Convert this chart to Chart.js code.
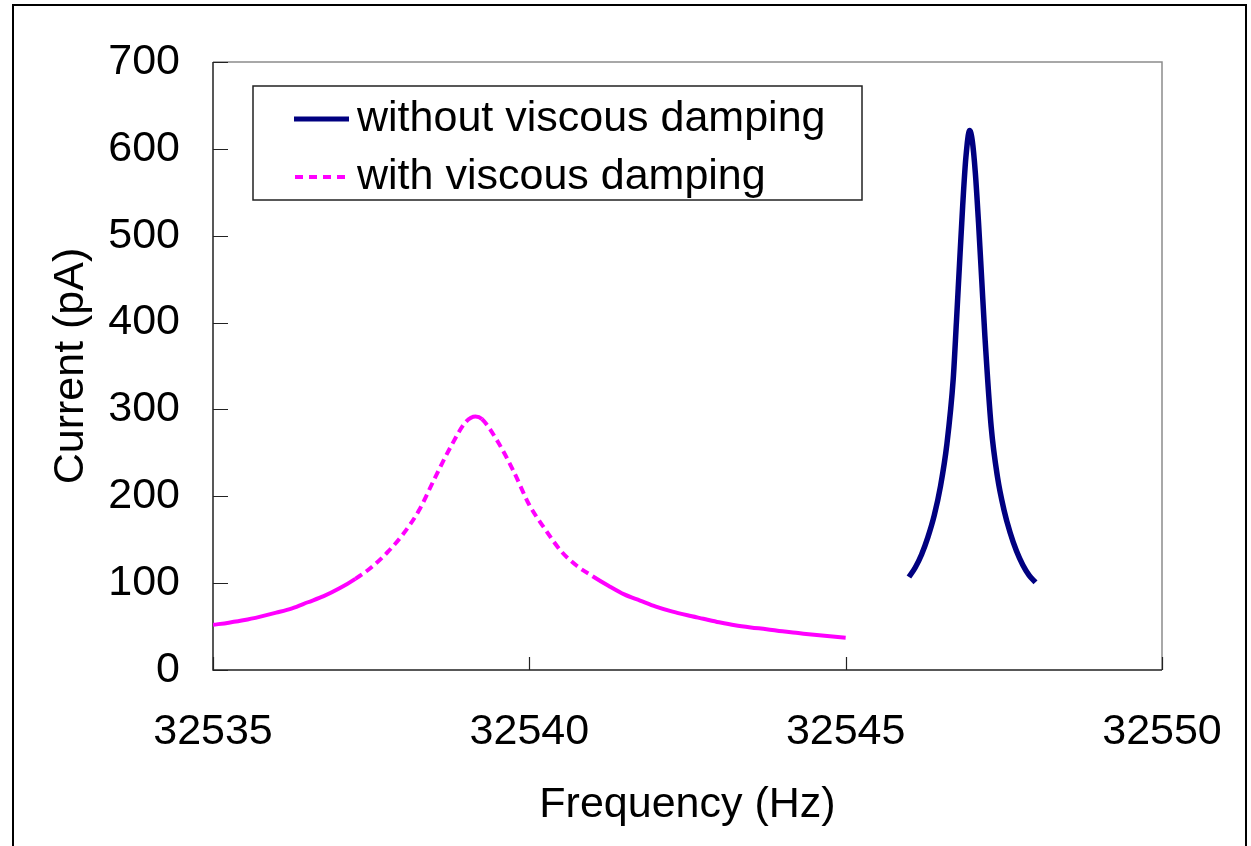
<!DOCTYPE html>
<html lang="en">
<head>
<meta charset="UTF-8">
<title>Current vs Frequency</title>
<script src="https://cdn.jsdelivr.net/npm/chart.js@4.4.0/dist/chart.umd.min.js"></script>
<style>
  html, body { margin: 0; padding: 0; background: #fff; overflow: hidden; }
  #wrap { position: relative; width: 1251px; height: 846px; }
</style>
</head>
<body>
<div id="wrap"><canvas id="resChart" width="1251" height="846"></canvas></div>
<script>
// with viscous damping (magenta, dashed)
const dampedFreq = [32535, 32535.25, 32535.5, 32535.75, 32536, 32536.25, 32536.5, 32536.75,
  32537, 32537.25, 32537.5, 32537.75, 32538, 32538.25, 32538.5, 32538.75, 32539, 32539.15,
  32539.25, 32539.5, 32539.75, 32540, 32540.25, 32540.5, 32540.75, 32541, 32541.25, 32541.5,
  32541.75, 32542, 32542.25, 32542.5, 32542.75, 32543, 32543.25, 32543.5, 32543.75, 32544,
  32544.25, 32544.5, 32544.75, 32545];
const dampedCurrent = [52, 54.5, 57.5, 61.5, 66, 71, 78, 85,
  94, 105, 118, 135, 156, 183, 220, 256, 286, 292,
  289, 263, 229, 190, 162, 137, 120, 108, 97, 87,
  80, 73, 67.5, 63, 59, 55, 51.5, 49, 47, 44.5,
  42.5, 40.5, 38.8, 37.2];

// without viscous damping (navy, solid)
const undampedFreq = [32546, 32546.1, 32546.2, 32546.3, 32546.4, 32546.5, 32546.6, 32546.7,
  32546.75, 32546.8, 32546.85, 32546.9, 32546.96, 32547, 32547.05, 32547.1, 32547.15, 32547.2,
  32547.3, 32547.4, 32547.5, 32547.6, 32547.7, 32547.8, 32547.9, 32548];
const undampedCurrent = [107, 118, 133, 153, 178, 212, 260, 335,
  400, 468, 535, 590, 621, 610, 572, 515, 450, 385,
  280, 222, 185, 158, 137, 121, 109, 101];

const xTicks = [32535, 32540, 32545, 32550];
const yTicks = [0, 100, 200, 300, 400, 500, 600, 700];
const seriesNames = ['without viscous damping', 'with viscous damping'];
const seriesColors = ['#000080', '#ff00ff'];

const FONT = '"Liberation Sans", Arial, sans-serif';
const FSIZE = 43;
Chart.defaults.font.family = FONT;
Chart.defaults.color = '#000';

function toPoints(xs, ys) {
  return xs.map((x, i) => ({ x: x, y: ys[i] }));
}

// frame, plot border, inward tick marks and the boxed legend
const decor = {
  id: 'decor',
  beforeDraw(chart) {
    const ctx = chart.ctx;
    ctx.save();
    ctx.fillStyle = '#fff';
    ctx.fillRect(0, 0, chart.width, chart.height);
    ctx.strokeStyle = '#000';
    ctx.lineWidth = 2;
    ctx.strokeRect(13, 5, 1233, 900);
    ctx.restore();
  },
  beforeDatasetsDraw(chart) {
    const { ctx, chartArea: a, scales } = chart;
    ctx.save();
    ctx.strokeStyle = '#8c8c8c';
    ctx.lineWidth = 1.5;
    ctx.beginPath();
    ctx.moveTo(a.left, a.top);
    ctx.lineTo(a.right, a.top);
    ctx.lineTo(a.right, a.bottom);
    ctx.stroke();

    ctx.strokeStyle = '#222';
    ctx.lineWidth = 1.5;
    ctx.beginPath();
    ctx.moveTo(a.left, a.top);
    ctx.lineTo(a.left, a.bottom);
    ctx.lineTo(a.right, a.bottom);
    ctx.stroke();

    ctx.beginPath();
    yTicks.forEach(v => {
      const y = Math.round(scales.y.getPixelForValue(v)) + 0.5;
      ctx.moveTo(a.left, y);
      ctx.lineTo(a.left + 15, y);
    });
    xTicks.forEach(v => {
      const x = Math.round(scales.x.getPixelForValue(v)) + 0.5;
      ctx.moveTo(x, a.bottom);
      ctx.lineTo(x, a.bottom - 13);
    });
    ctx.lineWidth = 1.2;
    ctx.stroke();
    ctx.restore();
  },
  afterDatasetsDraw(chart) {
    const ctx = chart.ctx;
    ctx.save();
    ctx.fillStyle = '#fff';
    ctx.fillRect(253, 86, 609, 114);
    ctx.strokeStyle = '#222';
    ctx.lineWidth = 1.5;
    ctx.strokeRect(253, 86, 609, 114);

    const rows = [119, 177];
    ctx.lineCap = 'butt';
    // solid sample
    ctx.strokeStyle = seriesColors[0];
    ctx.lineWidth = 5;
    ctx.beginPath();
    ctx.moveTo(294, rows[0]);
    ctx.lineTo(349, rows[0]);
    ctx.stroke();
    // dashed sample
    ctx.strokeStyle = seriesColors[1];
    ctx.lineWidth = 4;
    ctx.setLineDash([8, 6]);
    ctx.beginPath();
    ctx.moveTo(295, rows[1]);
    ctx.lineTo(350, rows[1]);
    ctx.stroke();
    ctx.setLineDash([]);

    ctx.fillStyle = '#000';
    ctx.font = FSIZE + 'px ' + FONT;
    ctx.textBaseline = 'middle';
    ctx.textAlign = 'left';
    ctx.fillText(seriesNames[0], 357, rows[0]);
    ctx.fillText(seriesNames[1], 357, rows[1]);
    ctx.restore();
  }
};

new Chart(document.getElementById('resChart'), {
  type: 'line',
  data: {
    datasets: [{
      label: seriesNames[0],
      data: toPoints(undampedFreq, undampedCurrent),
      borderColor: seriesColors[0],
      borderWidth: 5.5,
      pointRadius: 0,
      cubicInterpolationMode: 'monotone',
      fill: false
    }, {
      label: seriesNames[1],
      data: toPoints(dampedFreq, dampedCurrent),
      borderColor: seriesColors[1],
      borderWidth: 4,
      pointRadius: 0,
      cubicInterpolationMode: 'monotone',
      fill: false,
      segment: {
        // long (steep) segments get dashed, short ones read as solid
        borderDash: ctx => {
          const len = Math.hypot(ctx.p1.x - ctx.p0.x, ctx.p1.y - ctx.p0.y);
          return len > 18.8 ? [8, 5] : undefined;
        }
      }
    }]
  },
  options: {
    responsive: false,
    animation: false,
    devicePixelRatio: 1,
    layout: { padding: { top: 62, right: 89, bottom: 0, left: 0 } },
    plugins: {
      legend: { display: false },
      tooltip: { enabled: false }
    },
    scales: {
      x: {
        type: 'linear',
        min: xTicks[0],
        max: xTicks[xTicks.length - 1],
        afterBuildTicks: s => { s.ticks = xTicks.map(v => ({ value: v })); },
        afterFit: s => { s.height = 176; s.paddingLeft = 0; s.paddingRight = 0; },
        grid: { display: false, drawTicks: false },
        border: { display: false },
        ticks: {
          padding: 36,
          maxRotation: 0,
          font: { size: FSIZE },
          color: '#000',
          callback: v => String(v)
        },
        title: {
          display: true,
          text: 'Frequency (Hz)',
          font: { size: FSIZE },
          color: '#000',
          padding: { top: 0, bottom: 15 }
        }
      },
      y: {
        min: yTicks[0],
        max: yTicks[yTicks.length - 1],
        afterBuildTicks: s => { s.ticks = yTicks.map(v => ({ value: v })); },
        afterFit: s => { s.width = 213; s.paddingTop = 0; s.paddingBottom = 0; },
        grid: { display: false, drawTicks: false },
        border: { display: false },
        ticks: {
          padding: 33,
          font: { size: FSIZE },
          color: '#000',
          callback: v => String(v)
        },
        title: {
          display: true,
          text: 'Current (pA)',
          font: { size: FSIZE },
          color: '#000',
          padding: { top: 45, bottom: 0 }
        }
      }
    }
  },
  plugins: [decor]
});
</script>
</body>
</html>
